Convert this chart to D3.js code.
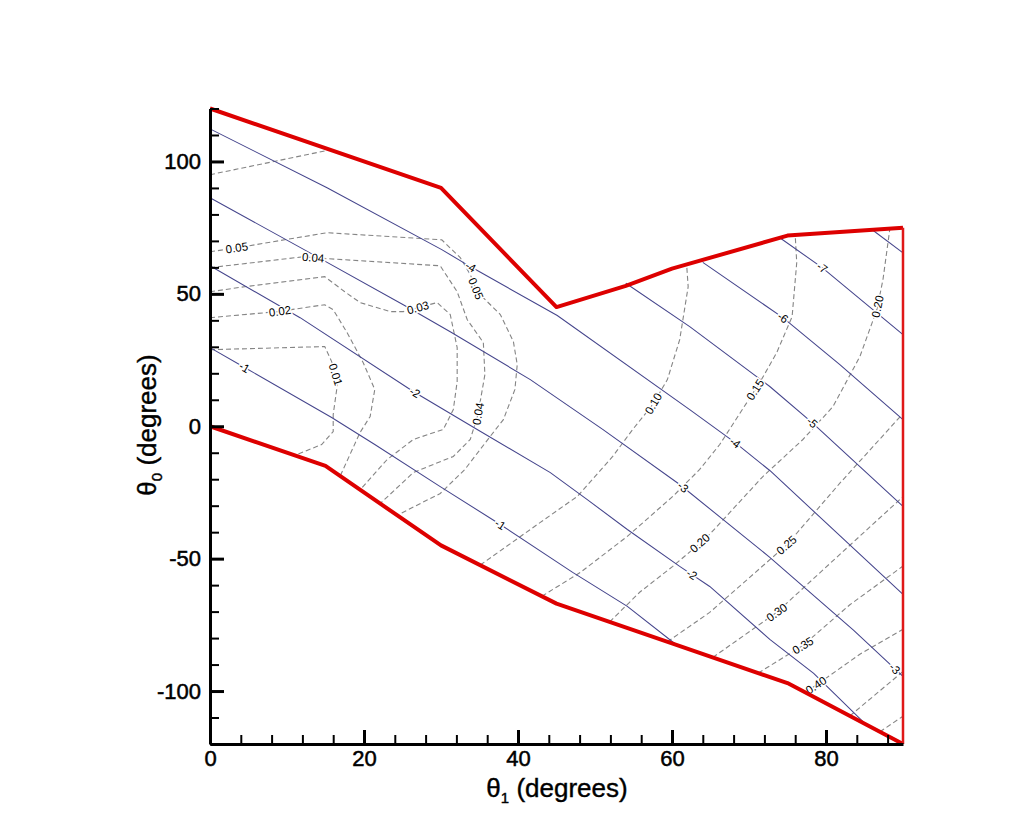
<!DOCTYPE html>
<html>
<head>
<meta charset="utf-8">
<script src="https://cdn.jsdelivr.net/npm/d3@7"></script>
<style>
  body { margin: 0; background: #fff; }
  text { font-family: "Liberation Sans", Arial, Helvetica, sans-serif; }
</style>
</head>
<body>
<div id="chart"></div>
<script>
// Domain boundary (theta1, theta0)
const upperEdge = [[0, 120], [30, 90], [45, 45], [54, 53], [60, 59.5], [75, 72], [90, 75]];
const lowerEdge = [[0, 0], [15, -15], [30, -45], [45, -67], [60, -82], [75, -97], [90, -120]];
const rightEdge = [[90, 75], [90, -120]];

// Solid contours
const solidM1 = [[0, 29.7], [4.5, 22.2], [15.8, 3.3], [21.4, -6.9], [29.9, -22.8], [37.7, -37.1], [47.1, -55.2], [54.2, -68.0], [60.6, -82.6]];
const solidM2 = [[0, 60.6], [11.7, 41.0], [26.4, 13.1], [34.7, -1.2], [44.2, -17.5], [49.0, -27.7], [54.2, -39.0], [61.0, -52.9], [64.9, -60.5], [72.7, -80.5], [78.4, -93.3], [85.1, -112.4]];
const solidM3 = [[0, 86.3], [13.4, 64.8], [25.1, 45.9], [31.2, 35.7], [41.6, 17.6], [51.0, -1.2], [61.0, -22.0], [72.7, -49.5], [83.6, -77.1], [90, -94.5]];
const solidM4 = [[0, 112.3], [15.2, 90.1], [30.1, 66.7], [33.8, 60.3], [45.1, 41.8], [62.3, 6.3], [68.2, -6.2], [72.7, -16.7], [90, -63.5]];
const solidM5 = [[54, 54], [62.3, 37.6], [72.7, 15.0], [78.2, 1.4], [90, -30.3]];
const solidM6 = [[64, 61.9], [74.4, 41.0], [81.8, 23.3], [90, 2.5]];
const solidM7 = [[74, 71.2], [79.5, 59.9], [90, 34.6]];
const solidM8 = [[86, 74.2], [90, 65.5]];

// Dashed contours
const dash01 = [[0, 28.9], [14.9, 30.1], [15.8, 24.4], [16.6, 16.9], [16.0, 4.4], [16.0, -2.0], [14.5, -6.9], [11.0, -11.0]];
const dash02 = [[0, 41.0], [8.8, 43.3], [14.9, 45.9], [16.0, 44.0], [17.8, 35.4], [19.9, 24.0], [21.4, 13.9], [20.8, 3.7], [19.5, -2.3], [16.9, -18.8]];
const dash03 = [[0, 50.8], [4.5, 52.7], [14.9, 56.5], [17.5, 50.8], [19.5, 46.7], [23.4, 43.3], [25.1, 43.3], [27.0, 44.8], [29.5, 46.7], [31.2, 42.2], [32.1, 29.7], [32.1, 16.9], [31.6, 6.3], [30.3, -1.2], [26.4, -5.0], [23.0, -12.6], [19.5, -24.0]];
const dash04 = [[0, 59.9], [12.1, 64.0], [15.2, 63.3], [29.9, 60.6], [32.1, 50.8], [33.4, 40.3], [35.5, 31.6], [35.7, 19.5], [34.8, 4.4], [33.8, -5.0], [31.6, -11.4], [26.4, -17.5], [22.1, -29.2]];
const dash05 = [[0, 65.9], [3.5, 67.4], [15.2, 73.1], [30.1, 70.4], [32.5, 63.7], [33.8, 57.3], [34.7, 50.8], [37.7, 42.2], [39.4, 32.0], [39.9, 23.3], [39.6, 13.9], [38.1, 2.5], [36.4, -3.8], [33.1, -16.3], [29.9, -25.4], [24.3, -33.6]];
const dashTop = [[0, 95.0], [15.3, 104.2]];
const dash10 = [[35.1, -52.4], [42.9, -36.3], [47.7, -26.5], [52.3, -11.4], [54.9, -1.2], [57.5, 8.2], [59.4, 17.6], [61.0, 32.7], [62.1, 52.7], [61.9, 61.1]];
const dash15 = [[43.1, -64.2], [48.1, -55.2], [54.2, -41.6], [60.1, -26.5], [63.6, -16.3], [66.2, -6.9], [71.4, 16.5], [73.6, 27.8], [75.6, 41.4], [76.2, 61.8], [76.0, 72.2]];
const dash20 = [[51.9, -73.9], [55.8, -62.7], [60.1, -52.9], [62.7, -46.5], [64.9, -40.8], [71.8, -19.0], [77.0, -5.0], [80.9, 7.4], [84.4, 26.3], [86.6, 44.0], [87.4, 55.4], [88.3, 74.7]];
const dash25 = [[59.4, -81.4], [64.9, -70.3], [74.9, -44.8], [81.8, -21.5], [90, 4.8]];
const dash30 = [[65.3, -87.3], [73.6, -70.3], [81.8, -48.4], [90, -26.6]];
const dash35 = [[71.2, -93.2], [77.0, -82.8], [83.1, -67.4], [90, -52.8]];
const dash40 = [[77.3, -100.5], [78.7, -97.8], [84.4, -86.1], [90, -76.7]];
const dash45 = [[83.1, -109.4], [90, -92.6]];
const dash50 = [[87.0, -115.4], [90, -109.5]];

// Contour labels: text, theta1, theta0
const solidLabels = [["-1", 4.3, 21.4], ["-1", 37.7, -37.1], ["-2", 26.6, 12.7], ["-2", 62.3, -57.1],
  ["-3", 61.4, -23.1], ["-3", 88.7, -92.2], ["-4", 33.8, 59.9], ["-4", 68.2, -6.2],
  ["-5", 78.2, 1.4], ["-6", 74.4, 41.0], ["-7", 79.5, 59.9]];
const dashLabels = [["0.05", 3.5, 67.0], ["0.05", 34.8, 52.3], ["0.04", 13.4, 64.0], ["0.04", 34.7, 4.8],
  ["0.03", 27.0, 44.8], ["0.02", 9.1, 43.3], ["0.01", 16.3, 19.5], ["0.10", 57.8, 8.2],
  ["0.15", 70.4, 14.6], ["0.20", 86.8, 45.2], ["0.20", 64.0, -45.4], ["0.25", 74.8, -44.6],
  ["0.30", 73.6, -70.3], ["0.35", 77.0, -82.8], ["0.40", 78.7, -97.8]];

// Tick values
const xTicks = [0, 20, 40, 60, 80];
const yTicks = [-100, -50, 0, 50, 100];

const solidLines = { "-1": solidM1, "-2": solidM2, "-3": solidM3, "-4": solidM4, "-5": solidM5, "-6": solidM6, "-7": solidM7, "-8": solidM8 };
const dashLines = { "0.01": dash01, "0.02": dash02, "0.03": dash03, "0.04": dash04, "0.05": dash05, "top": dashTop,
  "0.10": dash10, "0.15": dash15, "0.20": dash20, "0.25": dash25, "0.30": dash30, "0.35": dash35,
  "0.40": dash40, "0.45": dash45, "0.50": dash50 };

const svg = d3.select('#chart').append('svg')
  .attr('width', 1017)
  .attr('height', 830);

const x = d3.scaleLinear().domain([0, 90]).range([210, 903]);
const y = d3.scaleLinear().domain([-120, 120]).range([744, 108.5]);

const line = d3.line().x(d => x(d[0])).y(d => y(d[1]));

// dashed contours
svg.append('g').selectAll('path')
  .data(Object.values(dashLines))
  .enter().append('path')
    .attr('d', line)
    .attr('fill', 'none')
    .attr('stroke', '#858585')
    .attr('stroke-width', 1.1)
    .attr('stroke-dasharray', '5,3');

// solid contours
svg.append('g').selectAll('path')
  .data(Object.values(solidLines))
  .enter().append('path')
    .attr('d', line)
    .attr('fill', 'none')
    .attr('stroke', '#45458c')
    .attr('stroke-width', 1.05);

// put a label on the nearest point of its contour, rotated along it
function place(pts, lx, ly) {
  const sp = pts.map(d => [x(d[0]), y(d[1])]);
  const px = x(lx), py = y(ly);
  let best = null;
  for (let i = 0; i < sp.length - 1; i++) {
    const [x1, y1] = sp[i], [x2, y2] = sp[i + 1];
    const dx = x2 - x1, dy = y2 - y1;
    let t = ((px - x1) * dx + (py - y1) * dy) / (dx * dx + dy * dy);
    t = Math.max(0, Math.min(1, t));
    const qx = x1 + t * dx, qy = y1 + t * dy;
    const dd = (qx - px) ** 2 + (qy - py) ** 2;
    if (!best || dd < best.dd) best = { dd, x: qx, y: qy, a: Math.atan2(dy, dx) * 180 / Math.PI };
  }
  if (best.a > 90) best.a -= 180;
  if (best.a <= -90) best.a += 180;
  return best;
}

const labels = solidLabels.map(d => Object.assign({ text: d[0] }, place(solidLines[d[0]], d[1], d[2])))
  .concat(dashLabels.map(d => Object.assign({ text: d[0] }, place(dashLines[d[0]], d[1], d[2]))));

svg.append('g').selectAll('text')
  .data(labels)
  .enter().append('text')
    .attr('transform', d => `translate(${d.x},${d.y}) rotate(${d.a})`)
    .attr('text-anchor', 'middle')
    .attr('dy', '0.35em')
    .attr('font-size', 11.5)
    .attr('fill', '#000')
    .attr('stroke', '#fff')
    .attr('stroke-width', 3)
    .attr('paint-order', 'stroke')
    .text(d => d.text);

// boundary
[upperEdge, lowerEdge].forEach(e => {
  svg.append('path')
    .attr('d', line(e))
    .attr('fill', 'none')
    .attr('stroke', '#dd0000')
    .attr('stroke-width', 4)
    .attr('stroke-linejoin', 'round');
});
svg.append('path')
  .attr('d', line(rightEdge))
  .attr('fill', 'none')
  .attr('stroke', '#e01818')
  .attr('stroke-width', 2.5);

// axes
const fmt = d => String(d);
const xAxis = svg.append('g')
  .attr('transform', `translate(0,${y(-120)})`)
  .call(d3.axisBottom(x).tickValues(xTicks).tickFormat(fmt).tickSize(-14).tickSizeOuter(0).tickPadding(6));
svg.append('g')
  .attr('transform', `translate(0,${y(-120)})`)
  .call(d3.axisBottom(x).tickValues(d3.range(4, 90, 4).filter(v => v % 20)).tickSize(-9).tickSizeOuter(0).tickFormat(''))
  .call(g => g.select('.domain').remove());
const yAxis = svg.append('g')
  .attr('transform', `translate(${x(0)},0)`)
  .call(d3.axisLeft(y).tickValues(yTicks).tickFormat(fmt).tickSize(-14).tickSizeOuter(0).tickPadding(9));
svg.append('g')
  .attr('transform', `translate(${x(0)},0)`)
  .call(d3.axisLeft(y).tickValues(d3.range(-120, 121, 10).filter(v => v % 50)).tickSize(-9).tickSizeOuter(0).tickFormat(''))
  .call(g => g.select('.domain').remove());

svg.selectAll('.domain').attr('stroke', '#000').attr('stroke-width', 3);
svg.selectAll('.tick line').attr('stroke', '#000').attr('stroke-width', 2);
xAxis.selectAll('.tick line').attr('stroke-width', 3);
yAxis.selectAll('.tick line').attr('stroke-width', 3);
svg.selectAll('.tick text')
  .attr('font-size', 22)
  .attr('fill', '#000')
  .attr('stroke', '#000')
  .attr('stroke-width', 0.5)
  .attr('font-family', '"Liberation Sans", Arial, sans-serif');

// axis titles
const xt = svg.append('text')
  .attr('x', 557).attr('y', 797)
  .attr('text-anchor', 'middle')
  .attr('font-size', 26)
  .attr('stroke', '#000').attr('stroke-width', 0.4);
xt.append('tspan').text('θ');
xt.append('tspan').attr('font-size', 15).attr('dy', 6).text('1');
xt.append('tspan').attr('dy', -6).text(' (degrees)');

const yt = svg.append('text')
  .attr('transform', 'translate(156,425) rotate(-90)')
  .attr('text-anchor', 'middle')
  .attr('font-size', 26)
  .attr('stroke', '#000').attr('stroke-width', 0.4);
yt.append('tspan').text('θ');
yt.append('tspan').attr('font-size', 15).attr('dy', 6).text('0');
yt.append('tspan').attr('dy', -6).text(' (degrees)');
</script>
</body>
</html>
